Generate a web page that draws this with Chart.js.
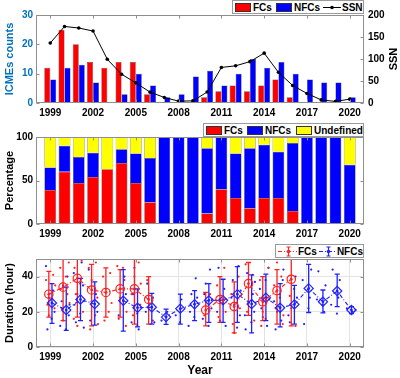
<!DOCTYPE html>
<html><head><meta charset="utf-8">
<script src="https://cdn.jsdelivr.net/npm/chart.js@4.4.1/dist/chart.umd.min.js"></script>
<style>
html,body{margin:0;padding:0;background:#fff;}
body{width:400px;height:378px;overflow:hidden;position:relative;font-family:"Liberation Sans",Arial,sans-serif;}
canvas{position:absolute;left:0;}
.leg{position:absolute;background:#fff;border:1px solid #9a9a9a;font:bold 10px "Liberation Sans",Arial,sans-serif;color:#000;display:flex;align-items:center;box-sizing:border-box;white-space:nowrap;padding-left:1px;}
.sw{display:inline-block;width:16px;height:9px;box-sizing:border-box;border:0.5px solid #333;margin:0 2px 0 1px;}
.leg svg{margin:0 1px 0 1px;}
</style></head><body>
<canvas id="c1" width="400" height="120" style="top:0"></canvas>
<canvas id="c2" width="400" height="122" style="top:120px"></canvas>
<canvas id="c3" width="400" height="136" style="top:242px"></canvas>

<div class="leg" style="left:232px;top:0;width:132px;height:14px;">
  <span class="sw" style="background:#ff0000"></span><span>FCs</span>
  <span class="sw" style="background:#0000ff;margin-left:4px"></span><span>NFCs</span>
  <svg width="18" height="9" style="margin-left:3px"><line x1="0" y1="4.5" x2="18" y2="4.5" stroke="#000" stroke-width="1"/><circle cx="9" cy="4.5" r="1.8" fill="#000"/></svg><span>SSN</span>
</div>
<div class="leg" style="left:203px;top:123px;width:161px;height:14px;">
  <span class="sw" style="background:#ff0000"></span><span>FCs</span>
  <span class="sw" style="background:#0000ff;margin-left:4px"></span><span>NFCs</span>
  <span class="sw" style="background:#ffff00;margin-left:5px"></span><span>Undefined</span>
</div>
<div class="leg" style="left:275px;top:244px;width:89px;height:14px;">
  <svg width="21" height="11"><line x1="0" y1="5.5" x2="21" y2="5.5" stroke="#ff2020" stroke-width="1.2" stroke-dasharray="4,2,1,2"/><line x1="10.5" y1="1" x2="10.5" y2="10" stroke="#ff2020" stroke-width="1.2"/><line x1="8.5" y1="1" x2="12.5" y2="1" stroke="#ff2020"/><line x1="8.5" y1="10" x2="12.5" y2="10" stroke="#ff2020"/><circle cx="10.5" cy="5.5" r="1.8" fill="#ff2020"/></svg><span>FCs</span>
  <svg width="19" height="11" style="margin-left:2px"><line x1="0" y1="5.5" x2="19" y2="5.5" stroke="#2020ff" stroke-width="1.2" stroke-dasharray="4,2,1,2"/><line x1="9.5" y1="1" x2="9.5" y2="10" stroke="#2020ff" stroke-width="1.2"/><line x1="7.5" y1="1" x2="11.5" y2="1" stroke="#2020ff"/><line x1="7.5" y1="10" x2="11.5" y2="10" stroke="#2020ff"/><circle cx="9.5" cy="5.5" r="1.8" fill="#2020ff"/></svg><span>NFCs</span>
</div>

<script>
// ---------------- data ----------------
const years = [1999,2000,2001,2002,2003,2004,2005,2006,2007,2008,2009,2010,2011,2012,2013,2014,2015,2016,2017,2018,2019,2020];
const xTickYears = [1999,2002,2005,2008,2011,2014,2017,2020];

// panel 1: ICME counts and sunspot number
const fcCounts  = [12,25,20,14,12,14,14,3,null,null,null,2,4,6,4,6,8,2,null,null,null,null];
const nfcCounts = [8,12,13,7,null,3,10,6,2,3,9,11,6,10,15,12,14,10,8,7,7,2];
const ssn = [136.3,173.9,170.4,163.6,99.3,65.3,45.8,24.7,12.6,4.2,4.8,24.9,80.8,84.5,94.0,113.3,69.8,39.8,21.7,7.0,3.6,8.8];

// panel 2: percentages
const pctFC  = [39,60,47,54,63,70,47,25,null,null,null,12,40,30,18,30,30,15,null,null,null,null];
const pctNFC = [26,30,30,28,null,16,34,51,100,100,100,75,60,51,69,61,53,78,100,100,100,68];
const pctUnd = [35,10,23,18,37,14,19,24,null,null,null,13,null,19,13,9,17,7,null,null,null,32];

// panel 3: durations (hour)
const fcMean = [30,34,39,32.4,31,33,33,27,null,null,null,21,27,23,36,25.7,32,38.5,null,null,null,null];
const fcLo   = [17,15,17,12,17,17,13,13,null,null,null,12,14,8,18,15,13,12,null,null,null,null];
const fcHi   = [43,55,55,47,45,44,55,40,null,null,null,31,40,37,48,40,44,55,null,null,null,null];
const nfcMean = [25,21,27,24.4,null,26.3,22.3,22.6,17,21.8,24.3,26.5,26.5,30,24.4,28,22.3,24.2,33.3,25.7,31.8,21];
const nfcLo   = [13.4,9.5,15,12.4,null,9,11.4,13,12.8,13,15,14,14,14,8,15,11.4,13,19.6,19.4,22.9,19];
const nfcHi   = [36,34,39,37,null,44,33,30.5,21.5,30,32,36,38.5,45.7,41,41.4,36,35,47,32.4,41.4,22.9];

// individual events
const fcDotX = [1998.7,1998.8,1999.2,1999.3,1998.9,1999.35,1999.1, 1999.7,1999.8,2000.2,2000.3,1999.9,2000.1,2000.35,1999.75,
 2000.7,2000.8,2001.2,2001.3,2000.9,2001.1,2001.35,2000.65, 2001.7,2001.8,2002.2,2002.3,2001.9,2002.15,2002.35,
 2002.7,2002.8,2003.2,2003.3,2002.9,2003.1, 2003.7,2003.8,2004.2,2004.3,2003.9,2004.1,2004.35,
 2004.7,2004.8,2005.2,2005.3,2004.9,2005.1,2005.35, 2005.8,2006.2,2005.9, 2009.8,2010.2,
 2010.7,2010.8,2011.2,2011.3, 2011.7,2011.8,2012.2,2012.3,2011.9,2012.1, 2012.7,2012.8,2013.2,2013.3,
 2013.7,2013.8,2014.2,2014.3,2013.9,2014.1, 2014.7,2014.8,2015.2,2015.3,2014.9,2015.1,2015.35, 2015.8,2016.2];
const fcDotY = [38,24,41,22,18,35,27, 45,22,30,48,15,40,25,33,
 45,30,49,20,12,36,26,16, 45,10,48,28,38,18,13,
 40,15,42,25,33,20, 46,16,38,12,28,45,20,
 30,18,48,24,40,12,36, 38,15,25, 18,30,
 35,17,45,20, 30,13,40,22,8,25, 47,20,41,15,
 38,12,28,45,20,16, 35,22,40,13,48,28,18, 29,12];
const nfcDotX = [1998.7,1998.8,1999.2,1999.3,1999.1,1998.9, 1999.7,2000.2,2000.3,1999.8,2000.1,1999.9,2000.35,
 2000.7,2000.8,2001.2,2001.3,2000.9,2001.1,2001.35,2000.65, 2001.7,2001.8,2002.2,2002.3,2001.9,
 2003.8,2004.2,2004.3, 2004.7,2004.8,2005.2,2005.3,2004.9,2005.1, 2005.7,2006.2,2006.3,2005.8,
 2006.8,2007.2, 2007.8,2008.2,2008.1, 2008.7,2009.2,2009.3,2008.8,2009.1,2008.9,
 2009.7,2010.2,2010.3,2009.8,2010.1,2009.9,2010.35, 2010.7,2011.2,2011.3,2010.8,2011.1,2010.9,
 2011.7,2012.2,2012.3,2011.8,2012.1,2011.9,2012.35, 2012.7,2013.2,2013.3,2012.8,2013.1,2012.9,2013.35,2012.65,
 2013.7,2014.2,2014.3,2013.8,2014.1,2013.9,2014.35, 2014.7,2015.2,2015.3,2014.8,2015.1,2014.9,2015.35,
 2015.7,2016.2,2016.3,2015.8,2016.1,2015.9, 2016.7,2017.2,2017.3,2016.8,2017.1,
 2017.7,2018.2,2018.3,2017.8,2018.1, 2018.7,2019.2,2019.3,2018.8,2019.1, 2019.8,2020.2,2020.4];
const nfcDotY = [46,10,32,20,16,28, 12,40,18,26,10,35,24,
 24,14,48,35,30,19,11,42, 44,15,30,20,26,
 18,40,30, 14,30,10,24,45,19, 20,28,14,36,
 15,20, 18,27,14, 12,39,28,20,17,30,
 16,44,22,30,12,36,27, 20,33,12,45,25,15,
 28,46,18,38,11,24,32, 10,30,20,42,14,25,37,18,
 33,12,45,22,38,17,27, 26,15,38,10,30,20,44,
 18,40,28,14,33,22, 38,28,44,13,22,
 27,20,35,43,24, 24,28,38,44,19, 22,20,21];

// ---------------- styling ----------------
const RED='#ff0000', BLUE='#0000ff', YEL='#ffff00';
const RED3='#ff2020', BLUE3='#2020ff';
const FONT='"Liberation Sans", Arial, sans-serif';
Chart.defaults.font.family=FONT;
Chart.defaults.font.weight='bold';
Chart.defaults.font.size=10;
Chart.defaults.color='#000';
Chart.defaults.animation=false;
Chart.defaults.plugins.legend.display=false;
Chart.defaults.plugins.tooltip.enabled=false;

function xAxis(h, grid, title){
  return {type:'linear',min:1998,max:2021,offset:false,
    afterBuildTicks(s){ s.ticks = xTickYears.map(v=>({value:v})); },
    afterFit(s){ s.height=h; },
    ticks:{callback:v=>String(v),padding:4,maxRotation:0,autoSkip:false,color:'#000',font:{size:10,weight:'bold'}},
    grid: grid ? {display:true,color:'#e4e4e4',drawTicks:false,offset:false} : {display:false,drawTicks:false,offset:false},
    border:{display:false},
    title: title || {display:false}};
}
function yAxis(opts){
  return Object.assign({afterFit(s){ s.width=36; }, border:{display:false}, grid:{display:false,drawTicks:false}}, opts);
}

const framePlugin={id:'frame',afterDatasetsDraw(chart){
  const {ctx,chartArea:a}=chart;
  ctx.save(); ctx.strokeStyle='#8f8f8f'; ctx.lineWidth=1;
  const L=Math.round(a.left)+0.5, R=Math.round(a.right)-0.5, T=Math.round(a.top)+0.5, B=Math.round(a.bottom)-0.5;
  ctx.strokeRect(L,T,R-L,B-T);
  const tl=3, xs=chart.scales.x, yl=chart.scales.y, yr=chart.scales.y2;
  ctx.beginPath();
  xs.ticks.forEach(t=>{const p=Math.round(xs.getPixelForValue(t.value))+0.5; ctx.moveTo(p,B); ctx.lineTo(p,B-tl); ctx.moveTo(p,T); ctx.lineTo(p,T+tl);});
  yl.ticks.forEach(t=>{const p=Math.round(yl.getPixelForValue(t.value))+0.5; ctx.moveTo(L,p); ctx.lineTo(L+tl,p); if(!yr){ctx.moveTo(R,p); ctx.lineTo(R-tl,p);} });
  if(yr) yr.ticks.forEach(t=>{const p=Math.round(yr.getPixelForValue(t.value))+0.5; ctx.moveTo(R,p); ctx.lineTo(R-tl,p);});
  ctx.stroke(); ctx.restore();
}};

const ssnTitle={id:'ssnTitle',afterDraw(chart){
  const ctx=chart.ctx, a=chart.chartArea;
  ctx.save(); ctx.translate(394,(a.top+a.bottom)/2); ctx.rotate(-Math.PI/2);
  ctx.font='bold 11px '+FONT; ctx.fillStyle='#000'; ctx.textAlign='center'; ctx.textBaseline='middle';
  ctx.fillText('SSN',0,0); ctx.restore();
}};

// ---------------- panel 1 ----------------
new Chart(document.getElementById('c1'),{
  type:'bar',
  data:{labels:years,datasets:[
    {type:'line',label:'SSN',data:ssn,yAxisID:'y2',borderColor:'#000',backgroundColor:'#000',borderWidth:1,pointRadius:1.8,pointBackgroundColor:'#000',pointBorderWidth:0,order:0},
    {label:'FCs',data:fcCounts,yAxisID:'y',backgroundColor:RED,borderColor:'#444',borderWidth:0.5,categoryPercentage:0.84,barPercentage:1,order:1},
    {label:'NFCs',data:nfcCounts,yAxisID:'y',backgroundColor:BLUE,borderColor:'#444',borderWidth:0.5,categoryPercentage:0.84,barPercentage:1,order:2}
  ]},
  options:{responsive:false,layout:{padding:{top:15,left:0,right:0,bottom:0}},
    scales:{
      x:xAxis(17,false),
      y:yAxis({position:'left',min:0,max:30,ticks:{stepSize:10,padding:3,color:'#0072BD'},
        title:{display:true,text:'ICMEs counts',color:'#0072BD',font:{size:11,weight:'bold'},padding:{top:3,bottom:0}}}),
      y2:yAxis({position:'right',min:0,max:200,ticks:{stepSize:50,padding:4,color:'#000'}})
    }},
  plugins:[framePlugin,ssnTitle]
});

// ---------------- panel 2 ----------------
new Chart(document.getElementById('c2'),{
  type:'bar',
  data:{labels:years,datasets:[
    {label:'FCs',data:pctFC,backgroundColor:RED,borderColor:'#444',borderWidth:0.5,categoryPercentage:0.82,barPercentage:1},
    {label:'NFCs',data:pctNFC,backgroundColor:BLUE,borderColor:'#444',borderWidth:0.5,categoryPercentage:0.82,barPercentage:1},
    {label:'Undefined',data:pctUnd,backgroundColor:YEL,borderColor:'#444',borderWidth:0.5,categoryPercentage:0.82,barPercentage:1}
  ]},
  options:{responsive:false,layout:{padding:{top:17,left:0,right:36,bottom:0}},
    scales:{
      x:Object.assign(xAxis(18,false),{stacked:true}),
      y:yAxis({stacked:true,min:0,max:100,ticks:{stepSize:50,padding:3},
        title:{display:true,text:'Percentage',font:{size:11,weight:'bold'},padding:{top:3,bottom:0}}})
    }},
  plugins:[framePlugin]
});

// ---------------- panel 3 ----------------
const FC_OFF=-0.1, NFC_OFF=0.12;
const errPlugin={id:'err',afterDatasetDraw(chart,args){
  if(args.index!==2) return;
  const {ctx,chartArea:a,scales:{x,y}}=chart;
  ctx.save(); ctx.beginPath(); ctx.rect(a.left,a.top,a.width,a.height); ctx.clip();
  [[fcLo,fcHi,fcMean,FC_OFF,RED3],[nfcLo,nfcHi,nfcMean,NFC_OFF,BLUE3]].forEach(([lo,hi,m,off,col])=>{
    ctx.strokeStyle=col; ctx.fillStyle=col; ctx.lineWidth=1.3;
    years.forEach((yr,i)=>{
      if(m[i]==null) return;
      const px=x.getPixelForValue(yr+off), p1=y.getPixelForValue(lo[i]), p2=y.getPixelForValue(hi[i]), pm=y.getPixelForValue(m[i]);
      ctx.beginPath(); ctx.moveTo(px,p1); ctx.lineTo(px,p2);
      ctx.moveTo(px-2.5,p1); ctx.lineTo(px+2.5,p1); ctx.moveTo(px-2.5,p2); ctx.lineTo(px+2.5,p2); ctx.stroke();
      ctx.beginPath(); ctx.arc(px,pm,1.4,0,Math.PI*2); ctx.fill();
    });
  });
  ctx.restore();
}};
const pts=(xs,ys)=>xs.map((v,i)=>({x:v,y:ys[i]}));
new Chart(document.getElementById('c3'),{
  type:'line',
  data:{datasets:[
    {label:'FCs',data:years.map((v,i)=>({x:v+FC_OFF,y:fcMean[i]})),borderColor:RED3,borderWidth:1.1,borderDash:[4,2,1,2],
     pointStyle:'circle',pointRadius:4.2,pointBorderColor:RED3,pointBackgroundColor:'rgba(0,0,0,0)',pointBorderWidth:1.2,spanGaps:false},
    {label:'NFCs',data:years.map((v,i)=>({x:v+NFC_OFF,y:nfcMean[i]})),borderColor:BLUE3,borderWidth:1.1,borderDash:[4,2,1,2],
     pointStyle:'rectRot',pointRadius:4.6,pointBorderColor:BLUE3,pointBackgroundColor:'rgba(0,0,0,0)',pointBorderWidth:1.2,spanGaps:false},
    {label:'fc events',data:pts(fcDotX,fcDotY),showLine:false,pointRadius:1.1,pointBorderWidth:0,pointBackgroundColor:RED3},
    {label:'nfc events',data:pts(nfcDotX,nfcDotY),showLine:false,pointRadius:1.1,pointBorderWidth:0,pointBackgroundColor:BLUE3}
  ]},
  options:{responsive:false,layout:{padding:{top:17,left:0,right:36,bottom:0}},
    scales:{
      x:xAxis(31,true,{display:true,text:'Year',font:{size:12,weight:'bold'},padding:{top:0,bottom:0}}),
      y:yAxis({min:0,max:50,grid:{display:true,color:'#e4e4e4',drawTicks:false},
        afterBuildTicks(s){ s.ticks=[0,20,40].map(v=>({value:v})); },
        ticks:{padding:3},
        title:{display:true,text:'Duration (hour)',font:{size:11,weight:'bold'},padding:{top:3,bottom:0}}})
    }},
  plugins:[errPlugin,framePlugin]
});
</script>
</body></html>
